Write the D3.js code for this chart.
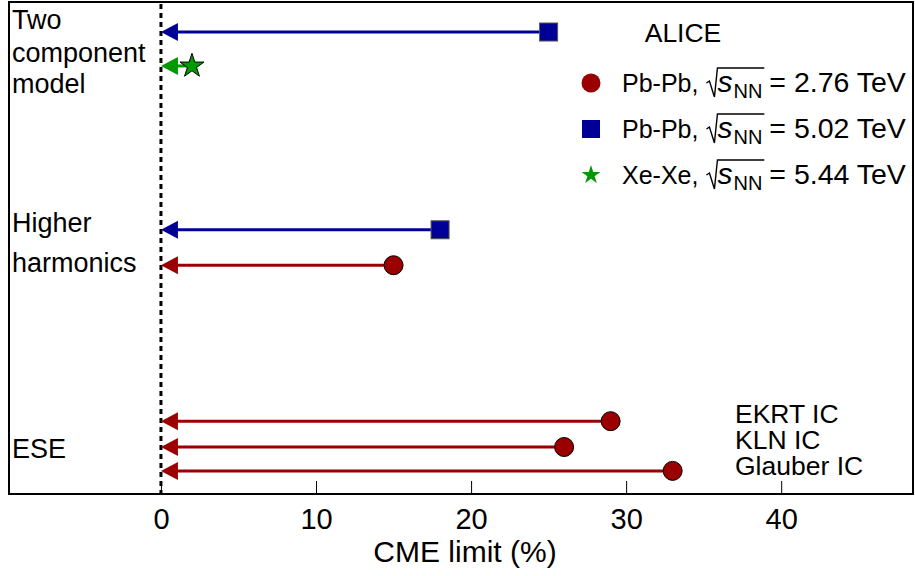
<!DOCTYPE html>
<html><head><meta charset="utf-8">
<script src="https://cdn.jsdelivr.net/npm/d3@7"></script>
<style>body{margin:0;background:#fff}svg{display:block}text{font-family:"Liberation Sans",Arial,sans-serif}</style>
</head><body><svg id="c" width="915" height="576"></svg>
<script>
// ---- data ----
const rowLabels = ["Two component model", "Two component model", "Higher harmonics", "Higher harmonics", "ESE EKRT IC", "ESE KLN IC", "ESE Glauber IC"];
const rowPos    = [9.39, 8.70, 5.37, 4.65, 1.48, 0.955, 0.47];
const rowSeries = ["PbPb502", "XeXe544", "PbPb502", "PbPb276", "PbPb276", "PbPb276", "PbPb276"];
const cmeLimit  = [25, 2, 18, 15, 29, 26, 33];
const xTicks = [0, 10, 20, 30, 40];
const seriesNames = ["PbPb276", "PbPb502", "XeXe544"];
const seriesSystem = ["Pb-Pb,", "Pb-Pb,", "Xe-Xe,"];
const seriesEnergy = ["= 2.76 TeV", "= 5.02 TeV", "= 5.44 TeV"];
const seriesColor = ["#9a0000", "#000096", "#009a00"];
const groupLabels = [["Two","component","model"],["Higher","harmonics"],["ESE"]];
const icLabels = ["EKRT IC", "KLN IC", "Glauber IC"];

const svg = d3.select("#c");
const L = 9, R = 913, T = 2, B = 494;
const x = d3.scaleLinear().domain([-9.8, 48.5]).range([L, R]);
const y = d3.scaleLinear().domain([0, 10]).range([B, T]);
const color = d3.scaleOrdinal().domain(seriesNames).range(seriesColor);

// frame
svg.append("rect").attr("x", L).attr("y", T).attr("width", R - L).attr("height", B - T)
  .attr("fill", "none").attr("stroke", "#000").attr("stroke-width", 2);

// axis ticks (inside, upward)
const ax = svg.append("g").attr("transform", `translate(0,${B})`)
  .call(d3.axisBottom(x).tickValues(xTicks).tickSizeInner(-13).tickSizeOuter(0).tickPadding(13).tickFormat(d3.format("d")));
ax.select(".domain").remove();
ax.selectAll("line").attr("stroke", "#000").attr("stroke-width", 1);
ax.selectAll("text").attr("font-size", 29).attr("font-family", "Liberation Sans, Arial, sans-serif").attr("fill", "#000")
  .attr("dy", null).attr("y", 35);

svg.append("text").attr("x", 465).attr("y", 562).attr("text-anchor", "middle")
  .attr("font-size", 30).text("CME limit (%)");

// dotted zero line
svg.append("line").attr("x1", x(0)).attr("x2", x(0)).attr("y1", T + 2).attr("y2", B + 2)
  .attr("stroke", "#000").attr("stroke-width", 3).attr("stroke-dasharray", "5,4");

// arrows
const rows = rowPos.map((p, i) => ({p, s: rowSeries[i], v: cmeLimit[i]}));
const g = svg.append("g");
rows.forEach(d => {
  const c = color(d.s), yy = y(d.p), x0 = x(0);
  g.append("line").attr("x1", x0 + 10).attr("x2", x(d.v)).attr("y1", yy).attr("y2", yy)
    .attr("stroke", c).attr("stroke-width", 3);
  g.append("path").attr("d", `M${x0},${yy}L${x0 + 17},${yy - 9}L${x0 + 17},${yy + 9}Z`).attr("fill", c);
});
function marker(sel, s, cx, cy, legend) {
  const c = color(s);
  if (s === "PbPb276") sel.append("circle").attr("cx", cx).attr("cy", cy).attr("r", 9.5)
      .attr("fill", c).attr("stroke", legend ? "none" : "#000").attr("stroke-width", 1);
  else if (s === "PbPb502") sel.append("rect").attr("x", cx - 9).attr("y", cy - 9).attr("width", 18).attr("height", 18)
      .attr("fill", c).attr("stroke", legend ? "none" : "#555").attr("stroke-width", 1);
  else sel.append("path").attr("transform", `translate(${cx},${cy})`)
      .attr("d", d3.symbol(d3.symbolStar, legend ? 110 : 180)()).attr("fill", c)
      .attr("stroke", legend ? "none" : "#000").attr("stroke-width", 1);
}
rows.forEach(d => marker(g, d.s, x(d.v), y(d.p), false));

// group labels
const glPos = [[29, 62, 93], [232, 272], [458]];
groupLabels.forEach((ls, i) => ls.forEach((t, j) =>
  svg.append("text").attr("x", 12).attr("y", glPos[i][j]).attr("font-size", 27).text(t)));

// IC labels
[423, 449, 475].forEach((yy, i) => svg.append("text").attr("x", 735).attr("y", yy)
  .attr("font-size", 26.5).text(icLabels[i]));

// legend
svg.append("text").attr("x", 683).attr("y", 42).attr("text-anchor", "middle").attr("font-size", 26.5).text("ALICE");
[83, 129, 175].forEach((yy, i) => {
  marker(svg, seriesNames[i], 591, yy, true);
  const lg = svg.append("g");
  let cx = 622; const base = yy + 9;
  const t1 = lg.append("text").attr("x", cx).attr("y", base).attr("font-size", 25).text(seriesSystem[i]);
  cx += t1.node().getComputedTextLength() + 8;
  const rx = cx;
  const top = base - 24;
  cx += 11;
  const ts = lg.append("text").attr("x", cx).attr("y", base).attr("font-size", 30).attr("font-style", "italic").text("s");
  cx += ts.node().getComputedTextLength() + 1;
  const tn = lg.append("text").attr("x", cx).attr("y", base + 6).attr("font-size", 20).text("NN");
  cx += tn.node().getComputedTextLength() + 2;
  lg.append("path").attr("d", `M${rx},${base - 9}L${rx + 3},${base - 11}L${rx + 8},${base + 5}L${rx + 11},${top}L${cx},${top}`)
    .attr("fill", "none").attr("stroke", "#000").attr("stroke-width", 1.4);
  lg.append("text").attr("x", cx + 5).attr("y", base).attr("font-size", 28.5).text(seriesEnergy[i]);
});
</script></body></html>
